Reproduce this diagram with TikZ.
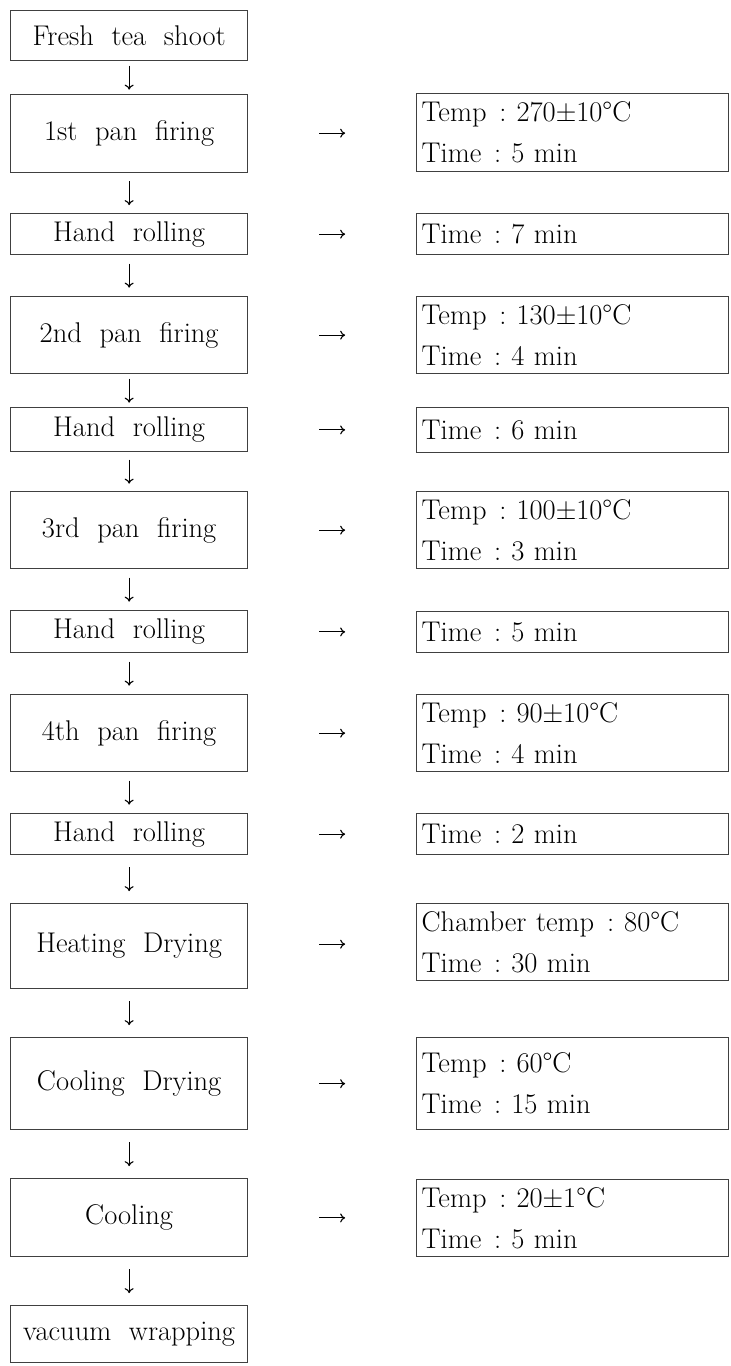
\documentclass[tikz,border=0pt]{standalone}
\usepackage{fontspec}
\usetikzlibrary{arrows.meta,calc}
\newcommand\degC{°C}
\newcommand\colsep{\hspace{0.45em}:\hspace{0.35em}}
\newcommand\chartfont{\fontsize{28.5}{41}\selectfont\addfontfeature{FakeBold=0.35}\spaceskip=0.62em plus 0.1em minus 0.1em\relax}
\tikzset{
  base/.style={draw=black!75, line width=1.3pt, inner sep=0pt, font=\chartfont},
  stage/.style={base, minimum width=237pt, align=center, anchor=north west},
  cond/.style={base, text width=302pt, inner xsep=5pt, align=left, anchor=north west},
  flow/.style={line width=1.1pt, -{To[length=5pt,width=9pt]}}
}
% #1 name, #2 top, #3 bottom, #4 text
\newcommand\stagebox[4]{\pgfmathsetmacro\boxh{#3-#2}\node[stage, minimum height=\boxh pt] (#1) at (10,#2) {#4};}
\newcommand\condbox[4]{\pgfmathsetmacro\boxh{#3-#2}\node[cond, minimum height=\boxh pt] (#1) at (416,#2) {#4};}
\begin{document}
\begin{tikzpicture}[x=1pt,y=-1pt]
\useasboundingbox (0,0) rectangle (731,1366);

% process steps
\stagebox{fresh}{10}{60}{Fresh tea shoot}
\stagebox{p1}{94}{172}{1st pan firing}
\stagebox{r1}{213}{254}{Hand rolling}
\stagebox{p2}{296}{373}{2nd pan firing}
\stagebox{r2}{407}{451}{Hand rolling}
\stagebox{p3}{491}{568}{3rd pan firing}
\stagebox{r3}{610}{652}{Hand rolling}
\stagebox{p4}{694}{771}{4th pan firing}
\stagebox{r4}{813}{854}{Hand rolling}
\stagebox{hd}{903}{988}{Heating Drying}
\stagebox{cd}{1037}{1129}{Cooling Drying}
\stagebox{co}{1178}{1256}{Cooling}
\stagebox{vw}{1305}{1362}{vacuum wrapping}

% conditions
\condbox{c1}{93}{171}{Temp\colsep 270±10\degC\\Time\colsep 5 min}
\condbox{c2}{213}{254}{Time\colsep 7 min}
\condbox{c3}{296}{373}{Temp\colsep 130±10\degC\\Time\colsep 4 min}
\condbox{c4}{407}{452}{Time\colsep 6 min}
\condbox{c5}{491}{568}{Temp\colsep 100±10\degC\\Time\colsep 3 min}
\condbox{c6}{611}{652}{Time\colsep 5 min}
\condbox{c7}{694}{771}{Temp\colsep 90±10\degC\\Time\colsep 4 min}
\condbox{c8}{813}{854}{Time\colsep 2 min}
\condbox{c9}{903}{980}{Chamber temp\colsep 80\degC\\Time\colsep 30 min}
\condbox{c10}{1037}{1129}{Temp\colsep 60\degC\\Time\colsep 15 min}
\condbox{c11}{1179}{1256}{Temp\colsep 20±1\degC\\Time\colsep 5 min}

% downward flow
\foreach \a/\b in {fresh/p1,p1/r1,r1/p2,p2/r2,r2/p3,p3/r3,r3/p4,p4/r4,r4/hd,hd/cd,cd/co,co/vw}
  \draw[flow] ($(\a.south)!.5!(\b.north)+(0,-12)$) -- ($(\a.south)!.5!(\b.north)+(0,12)$);

% step to condition
\foreach \a/\b in {p1/c1,r1/c2,p2/c3,r2/c4,p3/c5,r3/c6,p4/c7,r4/c8,hd/c9,cd/c10,co/c11}
  \draw[flow] ($(\a.east)!.5!(\b.west)+(-13,0)$) -- ($(\a.east)!.5!(\b.west)+(13,0)$);
\end{tikzpicture}
\end{document}
